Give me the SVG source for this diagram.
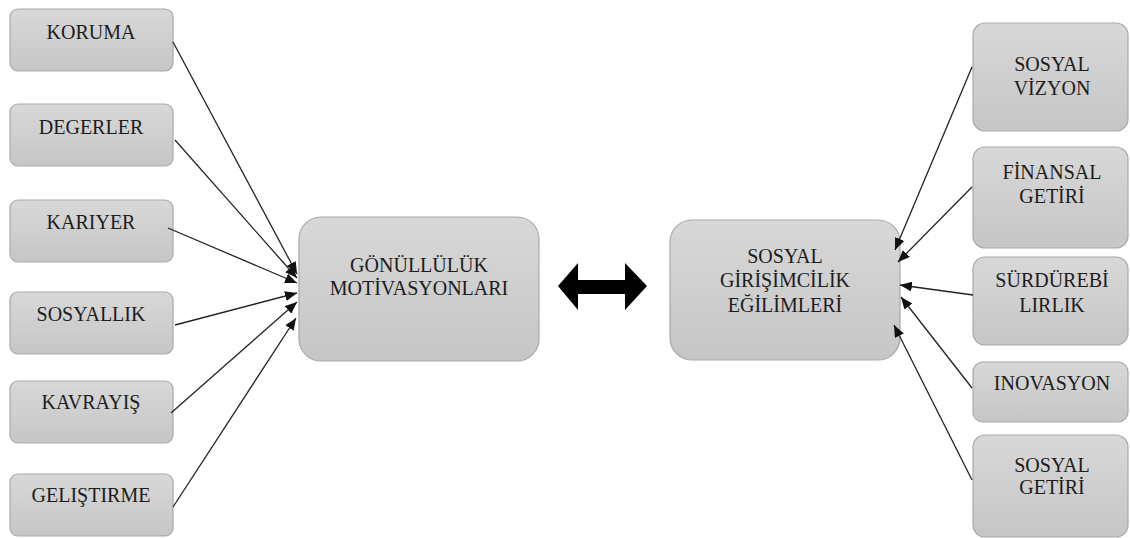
<svg xmlns="http://www.w3.org/2000/svg" width="1130" height="538" viewBox="0 0 1130 538">
<defs>
<linearGradient id="g" x1="0" y1="0" x2="0" y2="1">
<stop offset="0" stop-color="#d8d8d8"/>
<stop offset="1" stop-color="#c6c6c6"/>
</linearGradient>
<marker id="ah" viewBox="0 0 12 10" refX="12" refY="5" markerWidth="12" markerHeight="10" markerUnits="userSpaceOnUse" orient="auto">
<path d="M0,0 L12,5 L0,10 Z" fill="#111"/>
</marker>
</defs>
<style>
.box{fill:url(#g);stroke:#a9a9a9;stroke-width:1.2}
.t{font-family:'Liberation Serif',serif;font-size:20px;fill:#1c1c1c;text-anchor:middle}
.c{stroke:#222;stroke-width:1.3;fill:none;marker-end:url(#ah)}
</style>
<rect width="1130" height="538" fill="#fff"/>
<g id="koruma"><rect class="box" x="10" y="9" width="163" height="62" rx="8"/><text class="t" x="91" y="39">KORUMA</text></g>
<g id="degerler"><rect class="box" x="10" y="104" width="163" height="62" rx="8"/><text class="t" x="91" y="134">DEGERLER</text></g>
<g id="kariyer"><rect class="box" x="10" y="200" width="163" height="62" rx="8"/><text class="t" x="91" y="229">KARIYER</text></g>
<g id="sosyallik"><rect class="box" x="10" y="292" width="163" height="62" rx="8"/><text class="t" x="91" y="321">SOSYALLIK</text></g>
<g id="kavrayis"><rect class="box" x="10" y="381" width="163" height="62" rx="8"/><text class="t" x="91" y="409">KAVRAYIŞ</text></g>
<g id="gelistirme"><rect class="box" x="10" y="474" width="163" height="62" rx="8"/><text class="t" x="91" y="502">GELIŞTIRME</text></g>

<g id="gonulluluk"><rect class="box" x="299" y="217" width="240" height="144" rx="22"/><text class="t" x="419" y="272">GÖNÜLLÜLÜK</text><text class="t" x="419" y="295">MOTİVASYONLARI</text></g>

<g id="sosyal-girisimcilik"><rect class="box" x="670" y="220" width="230" height="140" rx="22"/><text class="t" x="785" y="263">SOSYAL</text><text class="t" x="785" y="287">GİRİŞİMCİLİK</text><text class="t" x="785" y="312">EĞİLİMLERİ</text></g>

<g id="sosyal-vizyon"><rect class="box" x="973" y="23" width="155" height="108" rx="12"/><text class="t" x="1052" y="71">SOSYAL</text><text class="t" x="1052" y="95">VİZYON</text></g>
<g id="finansal-getiri"><rect class="box" x="973" y="147" width="155" height="101" rx="12"/><text class="t" x="1052" y="179">FİNANSAL</text><text class="t" x="1052" y="203">GETİRİ</text></g>
<g id="surdurebilirlik"><rect class="box" x="973" y="257" width="155" height="88" rx="12"/><text class="t" x="1052" y="287">SÜRDÜREBİ</text><text class="t" x="1052" y="312">LIRLIK</text></g>
<g id="inovasyon"><rect class="box" x="973" y="362" width="155" height="60" rx="10"/><text class="t" x="1052" y="390">INOVASYON</text></g>
<g id="sosyal-getiri"><rect class="box" x="973" y="435" width="155" height="102" rx="12"/><text class="t" x="1052" y="472">SOSYAL</text><text class="t" x="1052" y="494">GETİRİ</text></g>

<g id="connectors">
<line class="c" x1="173" y1="42" x2="297" y2="274"/>
<line class="c" x1="175" y1="140" x2="297" y2="278"/>
<line class="c" x1="168" y1="228" x2="297" y2="283"/>
<line class="c" x1="175" y1="325" x2="297" y2="293"/>
<line class="c" x1="171" y1="413" x2="297" y2="302"/>
<line class="c" x1="173" y1="507" x2="296" y2="318"/>

<line class="c" x1="972" y1="67" x2="895" y2="250"/>
<line class="c" x1="972" y1="187" x2="898" y2="262"/>
<line class="c" x1="973" y1="295" x2="900" y2="285"/>
<line class="c" x1="972" y1="388" x2="901" y2="297"/>
<line class="c" x1="972" y1="480" x2="894" y2="325"/>

<path id="double-arrow" d="M558,286 L578,263 L578,280 L625,280 L625,263 L647,286 L625,310 L625,294 L578,294 L578,310 Z" fill="#000"/>
</g>
</svg>
